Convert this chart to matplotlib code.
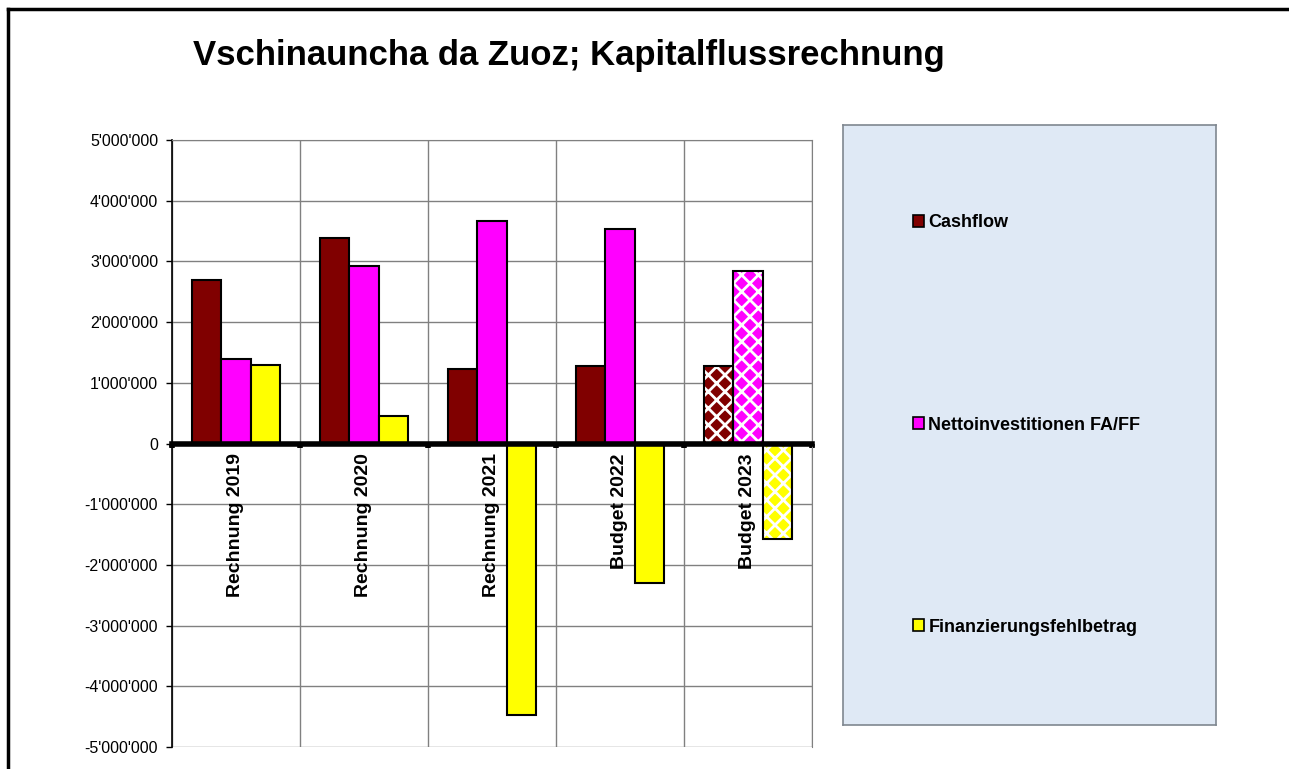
import matplotlib
matplotlib.use("Agg")
import matplotlib.pyplot as plt
from matplotlib.lines import Line2D
from matplotlib.patches import Patch
from matplotlib.ticker import FuncFormatter, FixedLocator
import numpy as np

plt.rcParams['font.family'] = ['Liberation Sans', 'DejaVu Sans']
plt.rcParams['hatch.linewidth'] = 2.0

# data (values in CHF)
categories = ["Rechnung 2019", "Rechnung 2020", "Rechnung 2021", "Budget 2022", "Budget 2023"]
series_names = ["Cashflow", "Nettoinvestitionen FA/FF", "Finanzierungsfehlbetrag"]
cashflow = [2700000, 3380000, 1220000, 1270000, 1280000]
netto_inv = [1400000, 2920000, 3670000, 3540000, 2850000]
fehlbetrag = [1300000, 450000, -4480000, -2290000, -1580000]
colors = ["#800000", "#ff00ff", "#ffff00"]
budget_hatched = [False, False, False, False, True]

W, H = 1289, 769
fig = plt.figure(figsize=(W / 100, H / 100), dpi=100)
ax = fig.add_axes([172 / W, 1 - 747 / H, 640 / W, 607 / H])

x = np.arange(len(categories))
bw = 0.227
for i, (vals, col) in enumerate(zip([cashflow, netto_inv, fehlbetrag], colors)):
    pos = x + (i - 1) * bw
    for xp, v, hatched in zip(pos, vals, budget_hatched):
        if hatched:
            # colored diamonds on white: colored fill crossed by white hatch lines
            ax.bar(xp, v, bw, facecolor=col, edgecolor="white", hatch="xx",
                   linewidth=0.5, zorder=3)
            ax.bar(xp, v, bw, facecolor="none", edgecolor="black", linewidth=1.5, zorder=4)
        else:
            ax.bar(xp, v, bw, facecolor=col, edgecolor="black", linewidth=1.5, zorder=3)

ax.set_xlim(-0.5, len(categories) - 0.5)
ax.set_ylim(-5000000, 5000000)
ax.yaxis.set_major_locator(FixedLocator(np.arange(-5000000, 5000001, 1000000)))
ax.yaxis.set_major_formatter(FuncFormatter(lambda v, p: f"{int(v):,}".replace(",", "'")))
ax.xaxis.set_major_locator(FixedLocator(np.arange(-0.5, len(categories), 1.0)))
ax.set_xticklabels([])
ax.grid(True, color="#808080", linewidth=1, zorder=0)
ax.set_axisbelow(True)

ax.spines["bottom"].set_position(("data", 0))
ax.spines["bottom"].set_linewidth(4)
ax.spines["bottom"].set_zorder(5)
ax.spines["left"].set_linewidth(1.2)
for s in ["top", "right"]:
    ax.spines[s].set_color("#808080")
ax.tick_params(axis="x", direction="out", length=3, width=4, color="black")
ax.tick_params(axis="y", direction="out", length=4, width=1, labelsize=11.5, pad=6)

for xi, lab in zip(x, categories):
    ax.annotate(lab, xy=(xi, 0), xytext=(0, -7), textcoords="offset points",
                rotation=90, ha="center", va="top", fontsize=14, fontweight="bold",
                zorder=6)

fig.text(193 / W, 1 - 56 / H, "Vschinauncha da Zuoz; Kapitalflussrechnung",
         fontsize=25, fontweight="bold", va="center", ha="left")

# legend panel
lax = fig.add_axes([843 / W, 1 - 725 / H, 373 / W, 600 / H])
lax.set_facecolor("#dfe9f5")
lax.set_xticks([])
lax.set_yticks([])
for s in lax.spines.values():
    s.set_color("#7f8790")
    s.set_linewidth(1.2)
handles = [Patch(facecolor=c, edgecolor="black", linewidth=1.2) for c in colors]
lax.legend(handles, series_names, loc="center left", bbox_to_anchor=(0.188, 0.5),
           frameon=False, prop={"weight": "bold", "size": 13}, labelspacing=10.25,
           handlelength=0.6, handleheight=0.6, handletextpad=0.25,
           borderpad=0, borderaxespad=0)

# outer frame (top and left edge visible)
fig.add_artist(Line2D([8 / W, 1], [1 - 9 / H, 1 - 9 / H], color="black", linewidth=2.5))
fig.add_artist(Line2D([8 / W, 8 / W], [0, 1 - 9 / H], color="black", linewidth=2.5))

fig.savefig("out.png", dpi=100)
